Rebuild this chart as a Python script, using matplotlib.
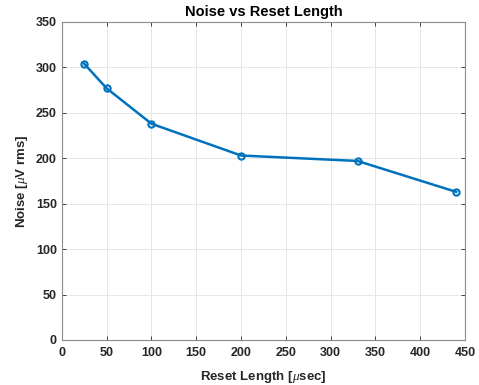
import matplotlib
matplotlib.use("Agg")
import matplotlib.pyplot as plt

# reset length (usec) vs measured noise (uV rms)
reset_len = [25, 50, 100, 200, 330, 440]
noise = [304, 277, 238, 203, 197, 163]
x_ticks = [0, 50, 100, 150, 200, 250, 300, 350, 400, 450]
y_ticks = [0, 50, 100, 150, 200, 250, 300, 350]

plt.rcParams['font.family'] = ['Liberation Sans', 'DejaVu Sans']
plt.rcParams['mathtext.fontset'] = 'custom'
plt.rcParams['mathtext.it'] = 'Liberation Serif:italic'

fig = plt.figure(figsize=(4.79, 3.85), dpi=100)
ax = fig.add_axes([0.129, 0.117, 0.842, 0.826])

ax.plot(reset_len, noise, color='#0072BD', linewidth=1.8, marker='o',
        markersize=4.5, markerfacecolor='none', markeredgewidth=1.5)

ax.set_xlim(0, 450)
ax.set_ylim(0, 350)
ax.set_xticks(x_ticks)
ax.set_yticks(y_ticks)
ax.grid(True, color='#e6e6e6', linewidth=0.7)
ax.set_axisbelow(True)
ax.tick_params(direction='in', top=True, right=True, length=3, width=0.6,
               colors='#262626', labelsize=9)
ax.tick_params(axis='x', pad=5)
for lbl in ax.get_xticklabels() + ax.get_yticklabels():
    lbl.set_fontweight('bold')
for s in ax.spines.values():
    s.set_color('#8c8c8c')
    s.set_linewidth(0.8)

ax.set_title('Noise vs Reset Length', fontsize=10.5, fontweight='bold', pad=4)
ax.set_xlabel(r'Reset Length [$\mu$sec]', fontsize=9.5, fontweight='bold',
              color='#262626', labelpad=7)
ax.set_ylabel(r'Noise [$\mu$V rms]', fontsize=9.5, fontweight='bold', color='#262626')

fig.savefig('out.png', dpi=100)
